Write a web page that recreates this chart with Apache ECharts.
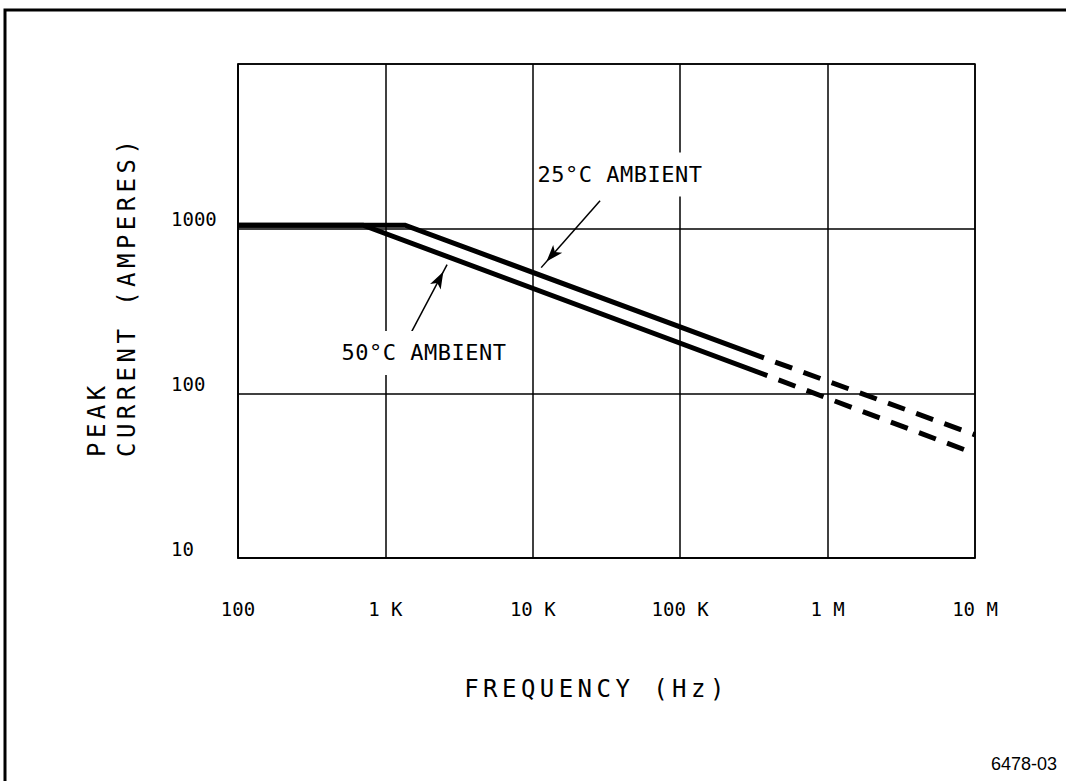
<!DOCTYPE html>
<html>
<head>
<meta charset="utf-8">
<script src="https://cdn.jsdelivr.net/npm/echarts@6/dist/echarts.min.js"></script>
<style>
html,body{margin:0;padding:0;background:#fff;}
#chart{width:1066px;height:781px;}
</style>
</head>
<body>
<div id="chart"></div>
<script>
// ---- tick labels ----
const xTickValues = [100, 1e3, 1e4, 1e5, 1e6, 1e7];
const xTickLabels = ['100', '1 K', '10 K', '100 K', '1 M', '10 M'];
const yTickValues = [10, 100, 1000, 10000];
const yTickLabels = ['10', '100', '1000', ''];

// ---- 25°C ambient curve (Hz, A) ----
const freq25Solid = [100, 1360, 370000];
const amp25Solid  = [1050, 1050, 164];
const freq25Dash  = [370000, 1e7];
const amp25Dash   = [164, 56];

// ---- 50°C ambient curve (Hz, A) ----
const freq50Solid = [100, 705, 390000];
const amp50Solid  = [1050, 1050, 128];
const freq50Dash  = [390000, 1e7];
const amp50Dash   = [128, 43];

// ---- annotations (data coordinates) ----
const labelText = ['25°C AMBIENT', '50°C AMBIENT'];
const labelAt   = [[39000, 2130], [1830, 176]];
const arrowFrom = [[28600, 1480], [1470, 227]];
const arrowTo   = [[11400, 580], [2620, 604]];

const xTitle = 'FREQUENCY (Hz)';
const yTitle1 = 'PEAK';
const yTitle2 = 'CURRENT (AMPERES)';
const footer = '6478-03';

const MONO = '"DejaVu Sans Mono", monospace';

function pairs(xs, ys) { return xs.map((x, i) => [x, ys[i]]); }
function labelFor(values, labels, v) {
  for (let i = 0; i < values.length; i++) {
    if (Math.abs(Math.log10(values[i]) - Math.log10(v)) < 1e-6) return labels[i];
  }
  return '';
}

function annot(i) {
  return {
    markLine: {
      silent: true, animation: false,
      symbol: ['none', 'arrow'],
      symbolSize: [9, 17],
      symbolOffset: [[0, 0], [0, 8]],
      lineStyle: { color: '#000', width: 1.5, type: 'solid' },
      label: { show: false },
      emphasis: { disabled: true },
      data: [[{ coord: arrowFrom[i] }, { coord: arrowTo[i] }]]
    },
    markPoint: {
      silent: true, animation: false,
      symbol: 'circle', symbolSize: 1,
      itemStyle: { color: 'rgba(0,0,0,0)' },
      label: {
        show: true, position: 'inside',
        formatter: labelText[i],
        color: '#000', fontFamily: MONO, fontSize: 22,
        backgroundColor: '#fff', padding: [11, 6, 11, 6]
      },
      data: [{ coord: labelAt[i] }]
    }
  };
}

const solidStyle = { color: '#000', width: 5, cap: 'butt', join: 'miter' };
const dashStyle = { color: '#000', width: 5, type: [18, 12], dashOffset: 18, cap: 'butt' };

const chart = echarts.init(document.getElementById('chart'), null, { renderer: 'svg' });
const option = {
  animation: false,
  backgroundColor: '#fff',
  grid: { left: 238, right: 91, top: 64, bottom: 223, show: true, borderColor: '#000', borderWidth: 1.5, containLabel: false, outerBoundsMode: 'none' },
  xAxis: {
    type: 'log', logBase: 10, min: 100, max: 1e7,
    name: xTitle, nameLocation: 'middle', nameGap: 119,
    nameTextStyle: { color: '#000', fontFamily: MONO, fontSize: 24, padding: [0, 20, 0, 0] },
    axisLine: { show: true, lineStyle: { color: '#000', width: 1.5 } },
    axisTick: { show: false },
    minorTick: { show: false },
    splitLine: { show: true, lineStyle: { color: '#000', width: 1.5 } },
    axisLabel: {
      color: '#000', fontFamily: MONO, fontSize: 19, margin: 41,
      formatter: v => labelFor(xTickValues, xTickLabels, v)
    }
  },
  yAxis: {
    type: 'log', logBase: 10, min: 10, max: 10000,
    axisLine: { show: true, lineStyle: { color: '#000', width: 1.5 } },
    axisTick: { show: false },
    minorTick: { show: false },
    splitLine: { show: true, lineStyle: { color: '#000', width: 1.5 } },
    axisLabel: {
      color: '#000', fontFamily: MONO, fontSize: 19, margin: 67,
      align: 'left', verticalAlign: 'bottom',
      formatter: v => labelFor(yTickValues, yTickLabels, v)
    }
  },
  series: [
    Object.assign({ type: 'line', name: '25°C AMBIENT', data: pairs(freq25Solid, amp25Solid), symbol: 'none', lineStyle: solidStyle, z: 3 }, annot(0)),
    { type: 'line', name: '25°C AMBIENT (extrapolated)', data: pairs(freq25Dash, amp25Dash), symbol: 'none', lineStyle: dashStyle, z: 3 },
    Object.assign({ type: 'line', name: '50°C AMBIENT', data: pairs(freq50Solid, amp50Solid), symbol: 'none', lineStyle: solidStyle, z: 3 }, annot(1)),
    { type: 'line', name: '50°C AMBIENT (extrapolated)', data: pairs(freq50Dash, amp50Dash), symbol: 'none', lineStyle: dashStyle, z: 3 }
  ],
  graphic: [
    { type: 'polyline', silent: true, shape: { points: [[5, 781], [5, 10], [1066, 10]] }, style: { stroke: '#000', lineWidth: 3, fill: null } },
    { type: 'text', silent: true, x: 97, y: 457, rotation: Math.PI / 2,
      style: { text: yTitle1, fill: '#000', font: '24px ' + MONO, textAlign: 'left', textVerticalAlign: 'middle' } },
    { type: 'text', silent: true, x: 127, y: 457, rotation: Math.PI / 2,
      style: { text: yTitle2, fill: '#000', font: '24px ' + MONO, textAlign: 'left', textVerticalAlign: 'middle' } },
    { type: 'text', silent: true, x: 1057, y: 764,
      style: { text: footer, fill: '#000', font: '18px "Liberation Sans", Arial, sans-serif', textAlign: 'right', textVerticalAlign: 'middle' } }
  ]
};
chart.setOption(option);

function applySpacing() {
  document.querySelectorAll('#chart text').forEach(t => {
    const s = t.textContent;
    if (s === xTitle || s === yTitle1 || s === yTitle2) t.style.letterSpacing = '4.45px';
    else if (s.indexOf('AMBIENT') >= 0) t.style.letterSpacing = '0.5px';
  });
}
applySpacing();
chart.on('finished', applySpacing);
setTimeout(applySpacing, 50);
</script>
</body>
</html>
